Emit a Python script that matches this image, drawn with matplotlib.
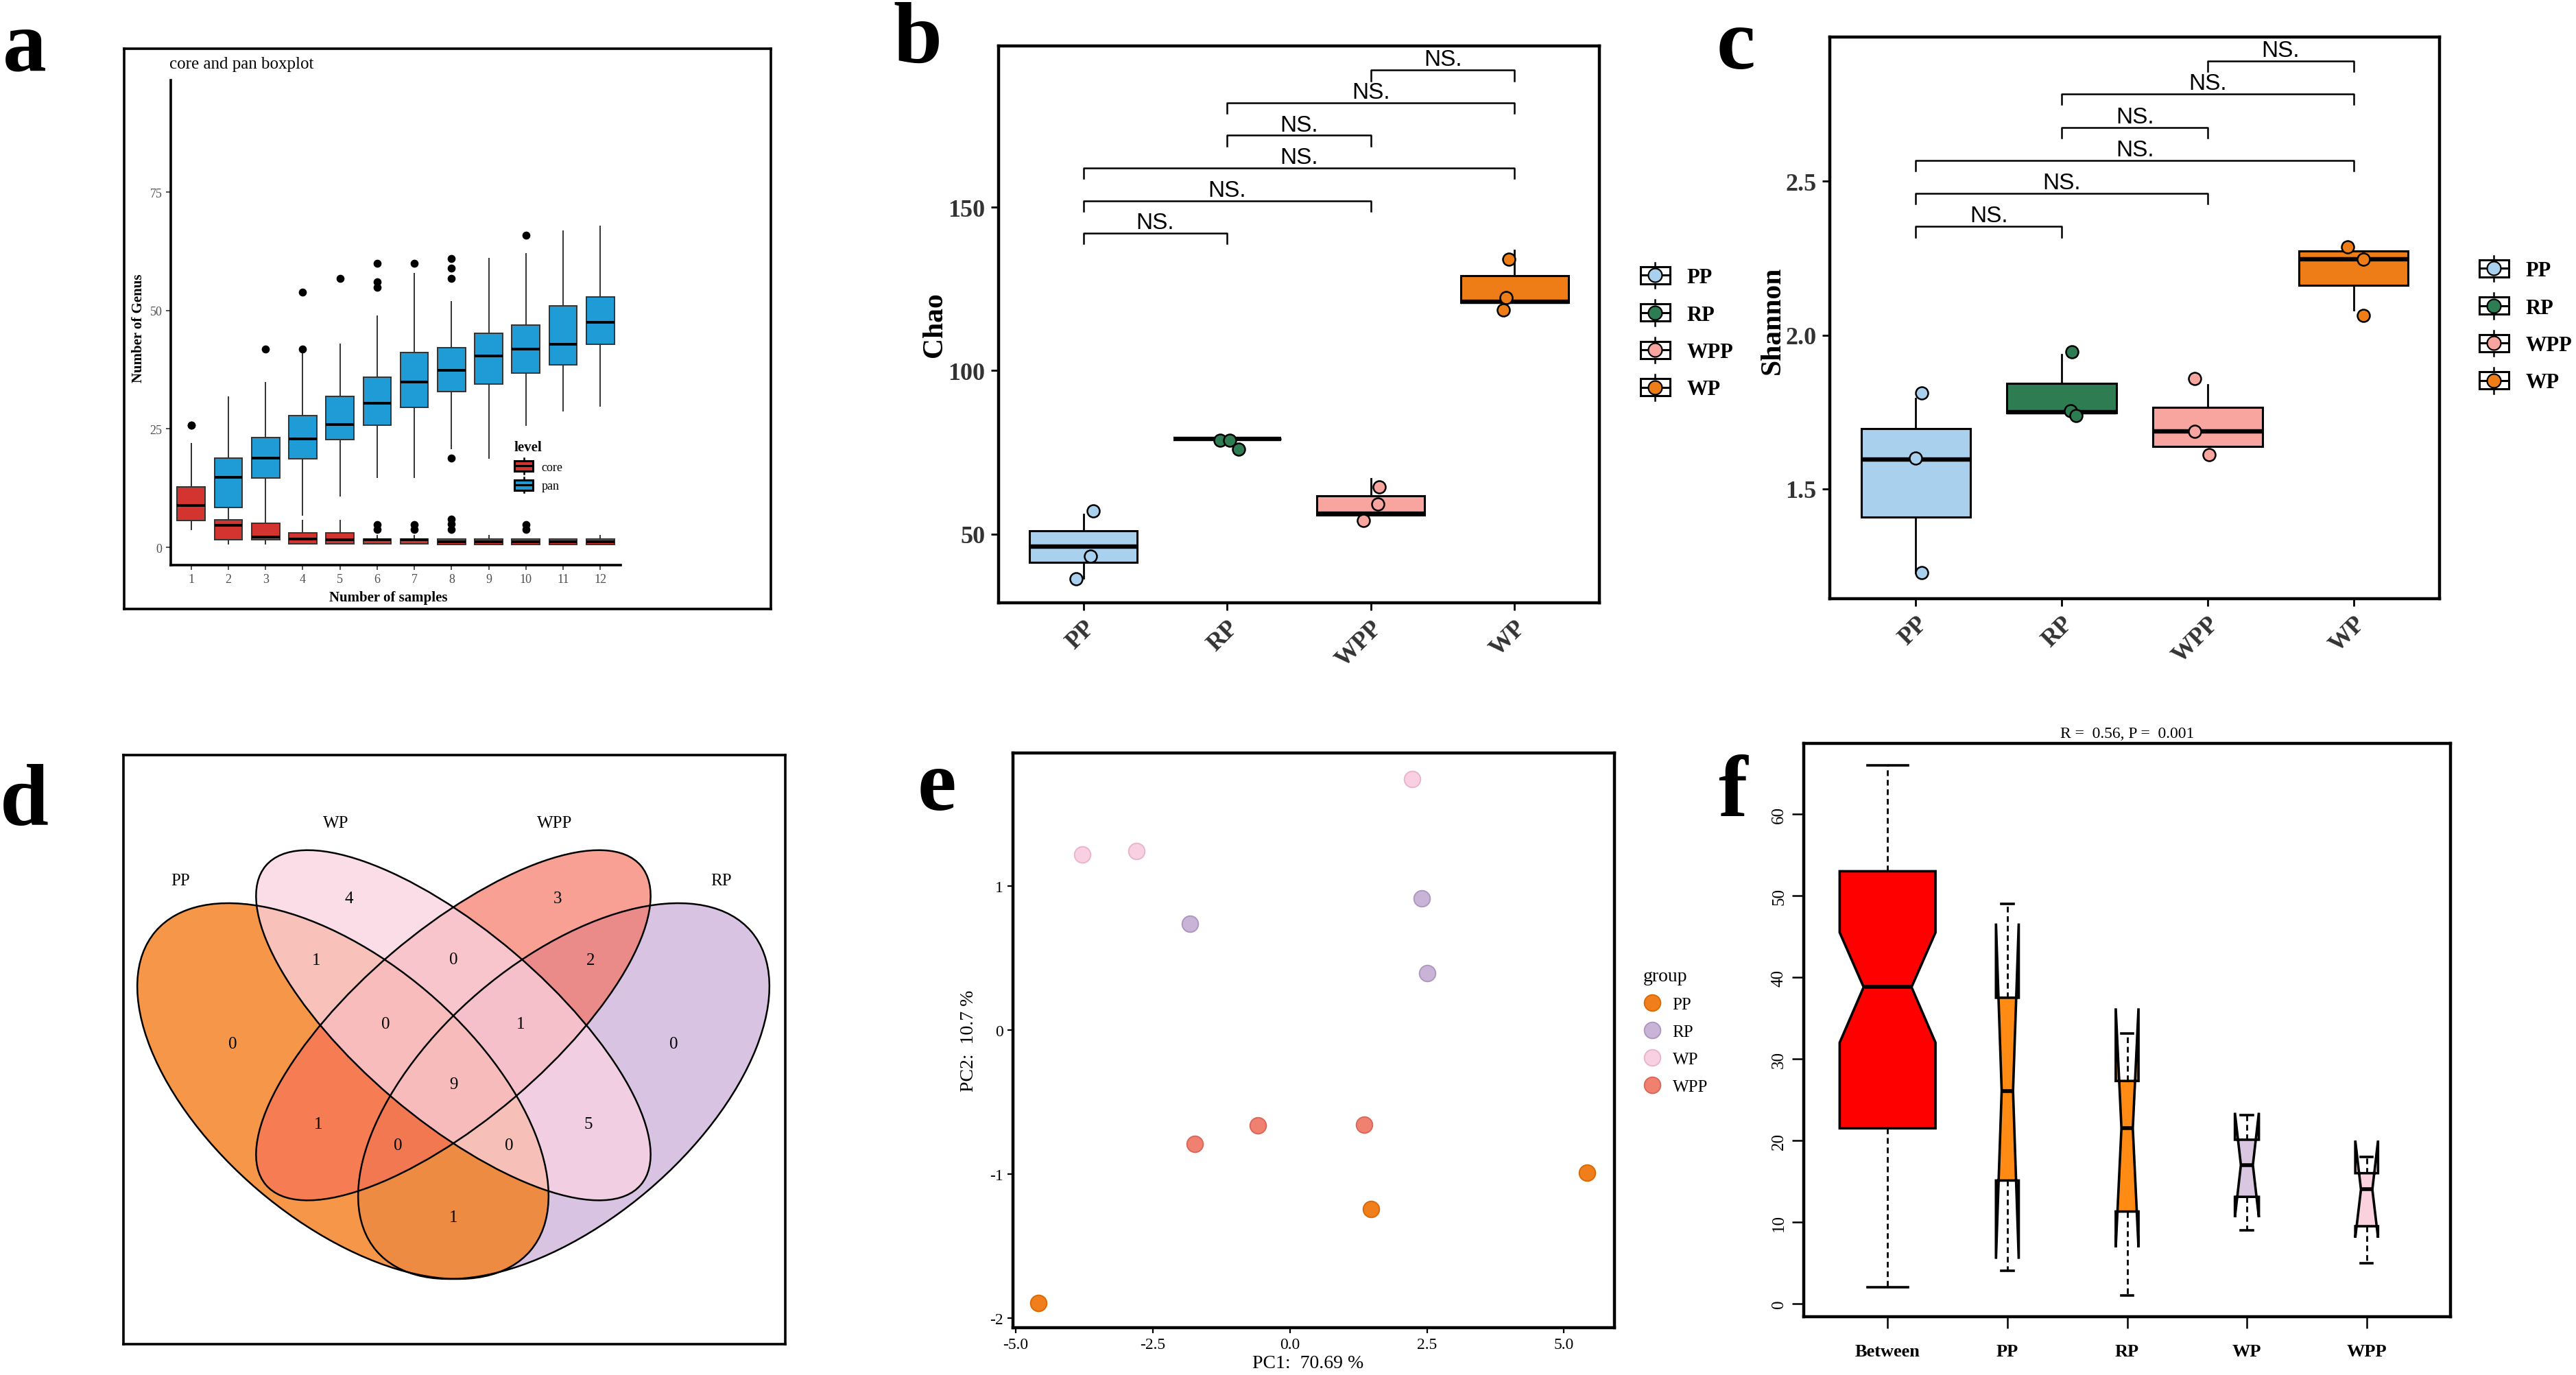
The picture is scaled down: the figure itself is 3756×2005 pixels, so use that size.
import numpy as np
import matplotlib
matplotlib.use("Agg")
import matplotlib.pyplot as plt
from matplotlib.patches import Rectangle, Ellipse, Patch
from matplotlib.lines import Line2D
from matplotlib.legend_handler import HandlerBase

W, H, DPI = 3756, 2006, 200
SERIF = ["Liberation Serif", "DejaVu Serif"]
SANS = ["Liberation Sans", "DejaVu Sans"]
plt.rcParams["font.family"] = SERIF
plt.rcParams["axes.unicode_minus"] = False

# ---------------- data ----------------
# a: core / pan genus boxplot
n_samples = list(range(1, 13))
pan_q1 = [5.7, 8.4, 14.6, 18.7, 22.8, 25.8, 29.6, 32.8, 34.5, 36.8, 38.5, 42.8]
pan_med = [8.8, 14.7, 18.8, 22.9, 25.9, 30.4, 34.9, 37.4, 40.4, 41.8, 42.9, 47.5]
pan_q3 = [12.8, 18.8, 23.1, 27.8, 31.8, 35.9, 41.1, 42.1, 45.2, 46.9, 50.9, 52.9]
pan_lo = [3.8, 1.0, 2.5, 6.8, 10.8, 14.7, 14.7, 20.8, 18.8, 25.8, 28.8, 29.8]
pan_hi = [21.8, 31.7, 34.7, 40.8, 42.8, 48.8, 57.8, 51.8, 60.9, 61.9, 66.8, 67.8]
pan_out = [[25.8], [], [41.8], [41.8, 53.9], [56.8], [54.9, 56.0, 59.9], [59.9],
           [18.8, 56.8, 58.9, 60.9], [], [65.9], [], []]
core_q1 = [5.7, 1.6, 1.6, 0.7, 0.7, 0.7, 0.7, 0.6, 0.6, 0.6, 0.6, 0.6]
core_med = [8.8, 4.7, 2.2, 1.8, 1.6, 1.6, 1.6, 1.2, 1.2, 1.2, 1.2, 1.2]
core_q3 = [12.8, 5.8, 5.1, 3.1, 3.1, 1.8, 1.8, 1.8, 1.8, 1.8, 1.8, 1.8]
core_lo = [3.8, 0.7, 0.7, 0.7, 0.7, 0.7, 0.7, 0.6, 0.6, 0.6, 0.6, 0.6]
core_hi = [21.8, 5.8, 5.1, 5.7, 5.7, 2.5, 2.5, 1.8, 2.5, 1.8, 1.8, 2.5]
core_out = [[25.8], [], [], [], [], [3.8, 4.8], [3.8, 4.8], [3.8, 4.9, 6.0], [], [3.8, 4.8], [], []]

# b / c: alpha diversity
groups = ["PP", "RP", "WPP", "WP"]
chao_q1 = [41.4, 79.1, 55.8, 120.8]
chao_med = [46.1, 79.1, 56.2, 121.0]
chao_q3 = [51.1, 79.1, 61.7, 129.0]
chao_lo = [36.5, 79.1, 55.8, 120.8]
chao_hi = [56.0, 79.1, 67.0, 136.9]
chao_pts = [[57.2, 43.3, 36.3], [78.8, 78.8, 75.9], [64.5, 59.1, 54.1], [134.0, 122.4, 118.5]]
chao_jit = [[0.07, 0.05, -0.05], [-0.05, 0.02, 0.08], [0.06, 0.05, -0.05], [-0.04, -0.06, -0.08]]

shan_q1 = [1.409, 1.747, 1.639, 2.161]
shan_med = [1.596, 1.750, 1.686, 2.246]
shan_q3 = [1.695, 1.843, 1.764, 2.273]
shan_lo = [1.227, 1.747, 1.639, 2.081]
shan_hi = [1.795, 1.936, 1.838, 2.273]
shan_pts = [[1.811, 1.600, 1.227], [1.946, 1.754, 1.738], [1.858, 1.686, 1.612], [2.286, 2.247, 2.064]]
shan_jit = [[0.04, 0.0, 0.04], [0.07, 0.06, 0.10], [-0.09, -0.09, 0.01], [-0.04, 0.07, 0.07]]

sig_pairs = [(0, 1), (0, 2), (0, 3), (1, 2), (1, 3), (2, 3)]
sig_labels = ["NS."] * 6

# d: venn counts, key = membership in (PP, WP, WPP, RP)
venn_sets = ["PP", "WP", "WPP", "RP"]
venn_counts = {
    (1, 0, 0, 0): 0, (0, 1, 0, 0): 4, (0, 0, 1, 0): 3, (0, 0, 0, 1): 0,
    (1, 1, 0, 0): 1, (0, 1, 1, 0): 0, (0, 0, 1, 1): 2, (1, 0, 1, 0): 1,
    (0, 1, 0, 1): 5, (1, 0, 0, 1): 1, (1, 1, 1, 0): 0, (0, 1, 1, 1): 1,
    (1, 0, 1, 1): 0, (1, 1, 0, 1): 0, (1, 1, 1, 1): 9,
}

# e: PCA
pca_groups = ["PP", "RP", "WP", "WPP"]
pc1_vals = [[-4.59, 1.48, 5.42], [-1.82, 2.41, 2.51], [-3.79, -2.80, 2.23], [-1.73, -0.58, 1.35]]
pc2_vals = [[-1.894, -1.242, -0.989], [0.737, 0.914, 0.392], [1.218, 1.242, 1.741], [-0.792, -0.664, -0.659]]

# f: ANOSIM
anosim_groups = ["Between", "PP", "RP", "WP", "WPP"]
anosim_q1 = [21.5, 15.1, 11.3, 13.1, 9.5]
anosim_med = [38.8, 26.1, 21.5, 17.0, 14.0]
anosim_q3 = [53.0, 37.5, 27.3, 20.1, 16.0]
anosim_lo = [2.0, 4.0, 1.0, 9.0, 5.0]
anosim_hi = [66.0, 49.0, 33.1, 23.1, 18.0]
anosim_cilo = [32.0, 5.5, 6.9, 10.6, 8.1]
anosim_cihi = [45.5, 46.6, 36.2, 23.4, 20.0]

# ---------------- styles ----------------
PAN, CORE = "#1F9BD6", "#D3342F"
ALPHA_COLS = ["#A9D1EE", "#2E7D52", "#F7A59E", "#EE7D17"]
PCA_COLS = ["#F07F1B", "#C9B4D8", "#F9D0E2", "#F08070"]
PCA_EDGE = ["#D96A08", "#AE97C0", "#E9B5C9", "#D8685A"]
ANOSIM_COLS = ["#FF0000", "#FF8A14", "#FF8A14", "#D9C6E0", "#F9D2DE"]
anosim_widths = [0.8, 0.19, 0.19, 0.2, 0.19]
anosim_caps = [0.34, 0.1, 0.1, 0.1, 0.1]

fig = plt.figure(figsize=(W / DPI, H / DPI), dpi=DPI)


def px_axes(x0, y0, x1, y1):
    return fig.add_axes([x0 / W, 1 - y1 / H, (x1 - x0) / W, (y1 - y0) / H])


def fig_xy(x, y):
    return x / W, 1 - y / H


def panel_label(x, y, s):
    fig.text(*fig_xy(x, y), s, fontsize=46, fontweight="bold", va="baseline", ha="left")


def frame_box(x0, y0, x1, y1, lw=1.3):
    fr = px_axes(x0, y0, x1, y1)
    fr.set_xticks([])
    fr.set_yticks([])
    for sp in fr.spines.values():
        sp.set_linewidth(lw)
    fr.patch.set_alpha(0)
    return fr


def make_stats(q1, med, q3, lo, hi, out=None, cilo=None, cihi=None):
    st = []
    for i in range(len(q1)):
        d = dict(q1=q1[i], med=med[i], q3=q3[i], whislo=lo[i], whishi=hi[i],
                 fliers=out[i] if out else [])
        if cilo:
            d["cilo"], d["cihi"] = cilo[i], cihi[i]
        st.append(d)
    return st


class BoxKey(HandlerBase):
    # ggplot-like legend key: whisker, box, median (+ dot)
    def __init__(self, dot, ms=7.2):
        super().__init__()
        self.dot = dot
        self.ms = ms

    def create_artists(self, legend, orig_handle, xdescent, ydescent, width, height, fontsize, trans):
        x0, y0 = -xdescent, -ydescent
        cx, cy = x0 + width / 2, y0 + height / 2
        face = orig_handle.get_facecolor()
        box_face = "white" if self.dot else face
        arts = [
            Line2D([cx, cx], [y0 - 0.25 * height, y0 + 1.25 * height], color="black", lw=0.9, transform=trans),
            Rectangle((x0, y0), width, height, facecolor=box_face, edgecolor="black", lw=1.1, transform=trans),
            Line2D([x0, x0 + width], [cy, cy], color="black", lw=1.1, transform=trans),
        ]
        if self.dot:
            arts.append(Line2D([cx], [cy], marker="o", ms=self.ms, mfc=face, mec="black", mew=0.8,
                               ls="none", transform=trans))
        return arts


# ---------------- a ----------------
frame_box(181, 72, 1124, 889)
ax = px_axes(249, 118, 905, 825)
ax.patch.set_alpha(0)
box_kw = dict(positions=n_samples, widths=0.75, patch_artist=True, showcaps=False,
              whiskerprops=dict(color="#333333", lw=0.7),
              medianprops=dict(color="black", lw=1.4),
              flierprops=dict(marker="o", mfc="black", mec="black", ms=3.2))
ax.bxp(make_stats(pan_q1, pan_med, pan_q3, pan_lo, pan_hi, pan_out),
       boxprops=dict(facecolor=PAN, edgecolor="#333333", lw=0.7), **box_kw)
ax.bxp(make_stats(core_q1, core_med, core_q3, core_lo, core_hi, core_out),
       boxprops=dict(facecolor=CORE, edgecolor="#333333", lw=0.7), **box_kw)
ax.set_xlim(0.45, 12.55)
ax.set_ylim(-3.76, 98.6)
ax.set_yticks([0, 25, 50, 75])
ax.set_xticks(n_samples)
ax.set_xticklabels([str(n) for n in n_samples])
for s in ["top", "right"]:
    ax.spines[s].set_visible(False)
for s in ["left", "bottom"]:
    ax.spines[s].set_linewidth(1.3)
ax.tick_params(labelsize=6.5, labelcolor="#4D4D4D", color="#333333", length=2.5, width=0.6, pad=2)
ax.set_ylabel("Number of Genus", fontsize=7.5, fontweight="bold")
ax.set_xlabel("Number of samples", fontsize=7.5, fontweight="bold")
ax.yaxis.set_label_coords(-0.056, 0.49)
ax.xaxis.set_label_coords(0.483, -0.052)
fig.text(*fig_xy(247, 94), "core and pan boxplot", fontsize=9, va="center", ha="left")
ax.legend([Patch(facecolor=CORE), Patch(facecolor=PAN)], ["core", "pan"], title="level",
          handler_map={Patch: BoxKey(dot=False)}, loc="upper left",
          bbox_to_anchor=fig_xy(750, 643), bbox_transform=fig.transFigure, frameon=False,
          fontsize=6.5, title_fontproperties=dict(weight="bold", size=7.5), borderpad=0,
          borderaxespad=0, handlelength=1.5, handleheight=0.9, labelspacing=0.55,
          handletextpad=0.7, alignment="left")
panel_label(4, 103, "a")


# ---------------- b / c ----------------
def alpha_panel(rect, q1, med, q3, lo, hi, pts, jit, ylim, yticks, ytl, ylabel, ylab_xy,
                sig_start, sig_step, sig_tick, leg_xy):
    ax = px_axes(*rect)
    bp = ax.bxp(make_stats(q1, med, q3, lo, hi), positions=[1, 2, 3, 4], widths=0.75,
                patch_artist=True, showcaps=False, showfliers=False,
                boxprops=dict(edgecolor="black", lw=1.1),
                whiskerprops=dict(color="black", lw=1.0),
                medianprops=dict(color="black", lw=2.3))
    for patch, col in zip(bp["boxes"], ALPHA_COLS):
        patch.set_facecolor(col)
    for i, (ys, js) in enumerate(zip(pts, jit)):
        ax.scatter([i + 1 + j for j in js], ys, s=42, color=ALPHA_COLS[i], edgecolors="black",
                   linewidths=0.9, zorder=3)
    for k, ((i, j), lab) in enumerate(zip(sig_pairs, sig_labels)):
        y = sig_start + k * sig_step
        ax.plot([i + 1, i + 1, j + 1, j + 1], [y - sig_tick, y, y, y - sig_tick], color="black",
                lw=0.9, clip_on=False)
        ax.annotate(lab, ((i + j) / 2 + 1, y), xytext=(0, 2.5), textcoords="offset points",
                    ha="center", va="baseline", fontsize=12, family=SANS)
    ax.set_xlim(0.41, 4.59)
    ax.set_ylim(*ylim)
    ax.set_yticks(yticks)
    ax.set_yticklabels(ytl)
    ax.set_xticks([1, 2, 3, 4])
    ax.set_xticklabels(groups, rotation=45, ha="right", va="top", rotation_mode="anchor")
    ax.tick_params(labelsize=13, length=4, width=1.0, colors="black", pad=3)
    for lab in ax.get_xticklabels() + ax.get_yticklabels():
        lab.set_fontweight("bold")
        lab.set_color("#333333")
    for sp in ax.spines.values():
        sp.set_linewidth(1.6)
    ax.set_ylabel(ylabel, fontsize=15, fontweight="bold")
    ax.yaxis.set_label_coords(*ylab_xy)
    handles = [Patch(facecolor=c) for c in ALPHA_COLS]
    ax.legend(handles, groups, handler_map={Patch: BoxKey(dot=True)}, loc="upper left",
              bbox_to_anchor=fig_xy(*leg_xy), bbox_transform=fig.transFigure, frameon=False,
              prop=dict(size=11, weight="bold"), borderpad=0, borderaxespad=0, handlelength=1.4,
              handleheight=0.88, labelspacing=0.8, handletextpad=0.8)
    return ax


alpha_panel((1456, 68, 2332, 880), chao_q1, chao_med, chao_q3, chao_lo, chao_hi, chao_pts, chao_jit,
            (29.0, 199.3), [50, 100, 150], ["50", "100", "150"], "Chao", (-0.085, 0.5),
            142.0, 9.98, 3.2, (2392, 390))
panel_label(1302, 91, "b")

alpha_panel((2668, 55, 3557, 874), shan_q1, shan_med, shan_q3, shan_lo, shan_hi, shan_pts, shan_jit,
            (1.143, 2.969), [1.5, 2.0, 2.5], ["1.5", "2.0", "2.5"], "Shannon", (-0.072, 0.497),
            2.353, 0.1076, 0.034, (3615, 380))
panel_label(2503, 100, "c")

# ---------------- d ----------------
vx0, vy0, vx1, vy1 = 180, 1102, 1145, 1961
axd = frame_box(vx0, vy0, vx1, vy1)
axd.set_xlim(vx0, vx1)
axd.set_ylim(vy1, vy0)
# ellipse layout (centre x, centre y, semi-major, semi-minor, angle) for PP, WP, WPP, RP
ell_geom = [(500, 1592, 359, 190, 40.4), (661, 1496, 359, 138, 40.4),
            (661, 1496, 359, 138, -40.4), (822, 1592, 359, 190, -40.4)]
ell_face = ["#F47F20", "#FAD2E1", "#F56E5A", "#C8AAD7"]
ell_alpha = [0.82, 0.75, 0.65, 0.7]
for idx in [3, 0, 2, 1]:
    cx, cy, a, b, ang = ell_geom[idx]
    axd.add_patch(Ellipse((cx, cy), 2 * a, 2 * b, angle=ang, facecolor=ell_face[idx],
                          alpha=ell_alpha[idx], lw=0))
for cx, cy, a, b, ang in ell_geom:
    axd.add_patch(Ellipse((cx, cy), 2 * a, 2 * b, angle=ang, fill=False, edgecolor="black", lw=0.9))

gx, gy = np.meshgrid(np.arange(vx0, vx1, 2.0), np.arange(vy0, vy1, 2.0))


def inside(cx, cy, a, b, ang):
    t = np.deg2rad(ang)
    dx, dy = gx - cx, gy - cy
    u = dx * np.cos(t) + dy * np.sin(t)
    v = -dx * np.sin(t) + dy * np.cos(t)
    return (u / a) ** 2 + (v / b) ** 2 <= 1


masks = [inside(*g) for g in ell_geom]
for key, cnt in venn_counts.items():
    m = np.ones_like(gx, dtype=bool)
    for flag, mk in zip(key, masks):
        m &= mk if flag else ~mk
    if m.any():
        axd.text(gx[m].mean(), gy[m].mean(), str(cnt), ha="center", va="center", fontsize=9)
for name, (tx, ty) in zip(venn_sets, [(263, 1285), (490, 1201), (809, 1201), (1052, 1285)]):
    axd.text(tx, ty, name, ha="center", va="center", fontsize=9)
panel_label(0, 1202, "d")

# ---------------- e ----------------
axe = px_axes(1477, 1099, 2354, 1937)
for xs, ys, col, ec in zip(pc1_vals, pc2_vals, PCA_COLS, PCA_EDGE):
    axe.scatter(xs, ys, s=72, color=col, edgecolors=ec, linewidths=0.7, zorder=3)
axe.set_xlim(-5.05, 5.92)
axe.set_ylim(-2.067, 1.922)
axe.set_xticks([-5, -2.5, 0, 2.5, 5])
axe.set_xticklabels(["-5.0", "-2.5", "0.0", "2.5", "5.0"])
axe.set_yticks([-2, -1, 0, 1])
axe.set_yticklabels(["-2", "-1", "0", "1"])
axe.tick_params(labelsize=8.5, length=3, width=0.8, pad=2)
for sp in axe.spines.values():
    sp.set_linewidth(1.6)
axe.set_xlabel("PC1:  70.69 %", fontsize=10)
axe.set_ylabel("PC2:  10.7 %", fontsize=10)
axe.xaxis.set_label_coords(0.49, -0.046)
axe.yaxis.set_label_coords(-0.059, 0.5)
pca_handles = [Line2D([], [], ls="none", marker="o", ms=8.5, mfc=c, mec=e, mew=0.7)
               for c, e in zip(PCA_COLS, PCA_EDGE)]
axe.legend(pca_handles, pca_groups, title="group", loc="upper left",
           bbox_to_anchor=fig_xy(2396, 1412), bbox_transform=fig.transFigure, frameon=False,
           fontsize=9, title_fontsize=10, borderpad=0, borderaxespad=0, handlelength=1.0,
           handletextpad=0.7, labelspacing=0.7, alignment="left")
panel_label(1338, 1181, "e")

# ---------------- f ----------------
axf = px_axes(2630, 1085, 3573, 1921)
bpf = axf.bxp(make_stats(anosim_q1, anosim_med, anosim_q3, anosim_lo, anosim_hi,
                         cilo=anosim_cilo, cihi=anosim_cihi),
              positions=[1, 2, 3, 4, 5], widths=anosim_widths, capwidths=anosim_caps,
              shownotches=True, patch_artist=True, showfliers=False,
              boxprops=dict(edgecolor="black", lw=1.3),
              whiskerprops=dict(color="black", lw=1.0, ls=(0, (3, 2))),
              capprops=dict(color="black", lw=1.3),
              medianprops=dict(color="black", lw=2.0))
for patch, col in zip(bpf["boxes"], ANOSIM_COLS):
    patch.set_facecolor(col)
axf.set_xlim(0.3, 5.7)
axf.set_ylim(-1.59, 68.67)
axf.set_yticks([0, 10, 20, 30, 40, 50, 60])
axf.set_xticks([1, 2, 3, 4, 5])
axf.set_xticklabels(anosim_groups, fontweight="bold", fontsize=9.5)
axf.tick_params(axis="y", labelsize=9, length=6, width=0.9, pad=3)
axf.tick_params(axis="x", length=6, width=0.9, pad=8)
for lab in axf.get_yticklabels():
    lab.set_rotation(90)
    lab.set_va("center")
for sp in axf.spines.values():
    sp.set_linewidth(1.6)
axf.text(0.5, 1.017, "R =  0.56, P =  0.001", transform=axf.transAxes, ha="center",
         va="center", fontsize=8.5)
panel_label(2505, 1190, "f")

fig.savefig("out.png", dpi=DPI)
